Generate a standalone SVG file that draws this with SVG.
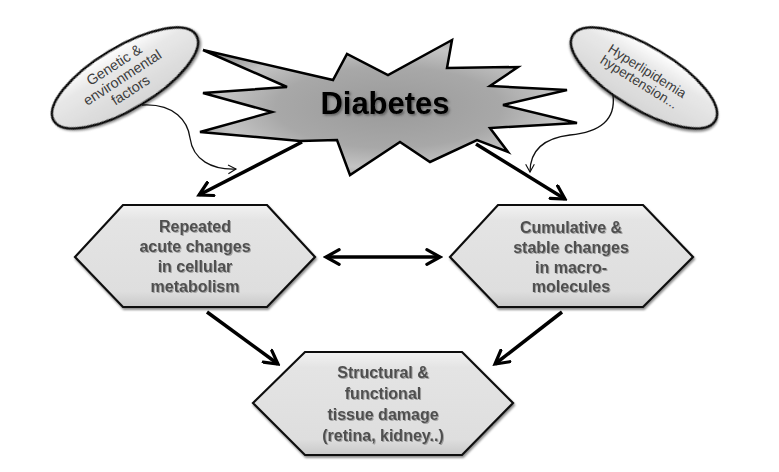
<svg xmlns="http://www.w3.org/2000/svg" width="779" height="472" viewBox="0 0 779 472">
<defs>
<style>
.hex{fill:url(#hexg);stroke:#111;stroke-width:2.2;filter:url(#sh)}
.ell{fill:url(#ellg);stroke:#111;stroke-width:2.6;filter:url(#sh)}
.ht{font-family:"Liberation Sans",Arial,sans-serif;font-weight:bold;font-size:16px;fill:#505050;text-anchor:middle;filter:url(#tsh)}
.et{font-family:"Liberation Sans",Arial,sans-serif;font-size:13.5px;fill:#3c3c3c;text-anchor:middle}
.thick{fill:none;stroke:#000;stroke-width:3.5;marker-end:url(#ah)}
.thin{fill:none;stroke:#111;stroke-width:1.3;marker-end:url(#ahs)}
</style>
<linearGradient id="hexg" x1="0" y1="0" x2="0" y2="1">
<stop offset="0" stop-color="#f2f2f2"/>
<stop offset="0.15" stop-color="#e4e4e4"/>
<stop offset="0.85" stop-color="#dedede"/>
<stop offset="1" stop-color="#c8c8c8"/>
</linearGradient>
<linearGradient id="ellg" x1="0" y1="0" x2="0" y2="1">
<stop offset="0" stop-color="#ffffff"/>
<stop offset="0.3" stop-color="#e8e8e8"/>
<stop offset="1" stop-color="#d6d6d6"/>
</linearGradient>
<radialGradient id="starg" cx="0.5" cy="0.5" r="0.6">
<stop offset="0" stop-color="#9a9a9a"/>
<stop offset="0.5" stop-color="#a8a8a8"/>
<stop offset="0.75" stop-color="#c4c4c4"/>
<stop offset="1" stop-color="#8a8a8a"/>
</radialGradient>
<filter id="sh" x="-10%" y="-10%" width="120%" height="130%">
<feDropShadow dx="1" dy="2" stdDeviation="1.2" flood-color="#000" flood-opacity="0.45"/>
</filter>
<filter id="tsh" x="-10%" y="-20%" width="120%" height="140%">
<feDropShadow dx="1" dy="1" stdDeviation="0.6" flood-color="#888" flood-opacity="0.7"/>
</filter>
<filter id="dsh" x="-10%" y="-20%" width="120%" height="140%">
<feDropShadow dx="1.5" dy="1.5" stdDeviation="1" flood-color="#333" flood-opacity="0.6"/>
</filter>
<marker id="ah" viewBox="0 0 12 12" refX="10" refY="6" markerWidth="5" markerHeight="5" orient="auto-start-reverse" markerUnits="strokeWidth">
<path d="M1,1 L10,6 L1,11" fill="none" stroke="#000" stroke-width="2.2" stroke-linecap="round" stroke-linejoin="miter"/>
</marker>
<marker id="ahs" viewBox="0 0 12 12" refX="10" refY="6" markerWidth="8" markerHeight="8" orient="auto" markerUnits="strokeWidth">
<path d="M1,1 L10,6 L1,11" fill="none" stroke="#111" stroke-width="1.3"/>
</marker>
</defs>
<rect width="779" height="472" fill="#fff"/>

<g id="connectors">
<path class="thin" d="M142,105 C175,103 188,122 190,138 C193,160 212,170 236,169"/>
<path class="thin" d="M613,95 C616,120 600,132 570,135 C545,138 530,150 530,172"/>
<path class="thick" d="M302,142 L199,195"/>
<path class="thick" d="M476,144 L565,199"/>
<path class="thick" d="M326,257 L440,257" style="marker-start:url(#ah)"/>
<path class="thick" d="M207,312 L278,364"/>
<path class="thick" d="M562,312 L495,364"/>
</g>

<g id="genetic">
<ellipse class="ell" cx="125" cy="78" rx="83" ry="31" transform="rotate(-31 125 78)"/>
<g transform="translate(125 78) rotate(-33)">
<text class="et" x="-2" y="-12" style="font-size:14.3px">Genetic &amp;</text>
<text class="et" x="-2" y="3" style="font-size:14.3px">environmental</text>
<text class="et" x="-2" y="18" style="font-size:14.3px">factors</text>
</g>
</g>

<g id="hyper">
<ellipse class="ell" cx="644" cy="78" rx="83" ry="31" transform="rotate(31 644 78)"/>
<g transform="translate(644 78) rotate(32)">
<text class="et" x="-1" y="-3">Hyperlipidemia</text>
<text class="et" x="-2" y="10.5">hypertension...</text>
</g>
</g>

<g id="diabetes">
<polygon points="203,50 333,80 347,54 388,75 452,40 447,68 518,67 490,86 567,90 503,105 577,123 490,128 508,152 477,140 430,162 400,142 350,175 337,140 300,141 200,132 272,112 203,93 287,87" fill="url(#starg)" stroke="#000" stroke-width="2.5" stroke-linejoin="miter"/>
<text x="385" y="114" text-anchor="middle" font-family="Liberation Sans,Arial,sans-serif" font-weight="bold" font-size="31" fill="#000" filter="url(#dsh)">Diabetes</text>
</g>

<g id="acute">
<polygon class="hex" points="75,257 123,205 267,205 315,257 267,307 123,307"/>
<text class="ht" x="195" y="232">Repeated</text>
<text class="ht" x="195" y="252">acute changes</text>
<text class="ht" x="195" y="272">in cellular</text>
<text class="ht" x="195" y="292">metabolism</text>
</g>

<g id="cumulative">
<polygon class="hex" points="450,257 498,205 643,205 693,257 643,307 498,307"/>
<text class="ht" x="571" y="233">Cumulative &amp;</text>
<text class="ht" x="571" y="253">stable changes</text>
<text class="ht" x="571" y="273">in macro-</text>
<text class="ht" x="571" y="292">molecules</text>
</g>

<g id="damage">
<polygon class="hex" points="253,403 305,352 462,352 513,403 462,455 305,455"/>
<text class="ht" x="383" y="378">Structural &amp;</text>
<text class="ht" x="383" y="399">functional</text>
<text class="ht" x="383" y="420">tissue damage</text>
<text class="ht" x="383" y="441">(retina, kidney..)</text>
</g>
</svg>
